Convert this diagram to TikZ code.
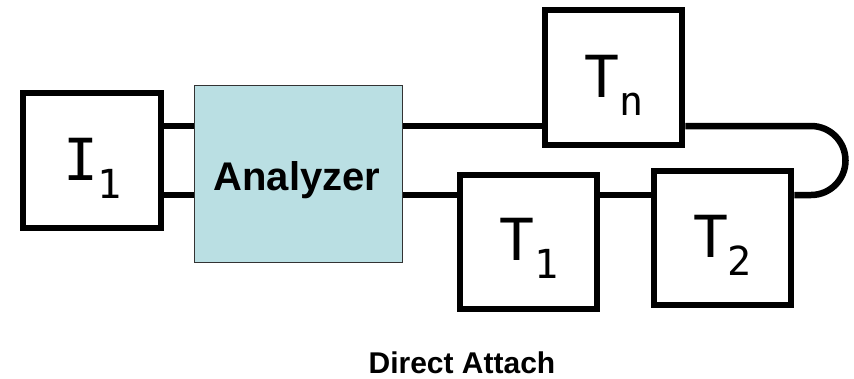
\documentclass[tikz,border=0pt]{standalone}
\usepackage{fontspec}
\setmainfont{Liberation Sans}
\newfontfamily\symfont{DejaVu Sans Mono}
\usetikzlibrary{calc,backgrounds}
\definecolor{analyzerfill}{RGB}{186,223,227}
% big symbol with a lowered index, e.g. T with subscript n
\newcommand{\boxsym}[2]{{\symfont\fontsize{58}{58}\selectfont #1\raisebox{-18pt}{\fontsize{40}{40}\selectfont #2}}}

\begin{document}
\begin{tikzpicture}[x=1pt,y=-1pt,
  unitbox/.style={draw=black, line width=6.5pt, fill=white, rectangle,
    minimum width=137pt, minimum height=134pt, inner sep=0pt},
  symlabel/.style={anchor=base, inner sep=0pt},
  bus/.style={draw=black, line width=6.5pt},
  analyzerbox/.style={draw=black!80, line width=1.2pt, fill=analyzerfill, rectangle,
    minimum width=208pt, minimum height=177pt, inner sep=0pt}]

  \useasboundingbox (0,0) rectangle (854,378);

  % bus heights
  \coordinate (topbus) at (0,126);
  \coordinate (botbus) at (0,195);
  \coordinate (loopstart) at (811,126);

  % boxes
  \node[unitbox, minimum width=138pt, minimum height=135pt] (I1) at (92,160.5) {};
  \node[analyzerbox] (An) at (298.5,174) {};
  \node[unitbox, minimum height=135pt] (Tn) at (613.5,77.5) {};
  \node[unitbox] (T1) at (528.5,242) {};
  \node[unitbox] (T2) at (722.5,238) {};

  % buses, behind the boxes
  \begin{pgfonlayer}{background}
  \draw[bus] (I1.east |- topbus) -- (An.west |- topbus);
  \draw[bus] (I1.east |- botbus) -- (An.west |- botbus);
  \draw[bus] (An.east |- topbus) -- (Tn.west |- topbus);
  \draw[bus] (Tn.east |- topbus) -- (loopstart)
     arc[start angle=-90, end angle=90, radius=34.5] -- (T2.east |- botbus);
  \draw[bus] (T2.west |- botbus) -- (T1.east |- botbus);
  \draw[bus] (T1.west |- botbus) -- (An.east |- botbus);
  \end{pgfonlayer}

  % labels
  \node[symlabel] (lI1) at ($(I1.center)+(0.5,19.5)$) {\boxsym{I}{1}};
  \node[symlabel] (lTn) at ($(Tn.center)+(0.5,19.5)$) {\boxsym{T}{n}};
  \node[symlabel] (lT1) at ($(T1.center)+(0.5,18)$) {\boxsym{T}{1}};
  \node[symlabel] (lT2) at ($(T2.center)+(0,19)$) {\boxsym{T}{2}};
  \node[symlabel, font=\bfseries\fontsize{40}{40}\selectfont] (lAn)
     at ($(An.center)+(-1.5,16)$) {Analyzer};

  \node[symlabel, font=\bfseries\fontsize{30}{30}\selectfont] (caption)
     at (462,373) {Direct Attach};
\end{tikzpicture}
\end{document}
